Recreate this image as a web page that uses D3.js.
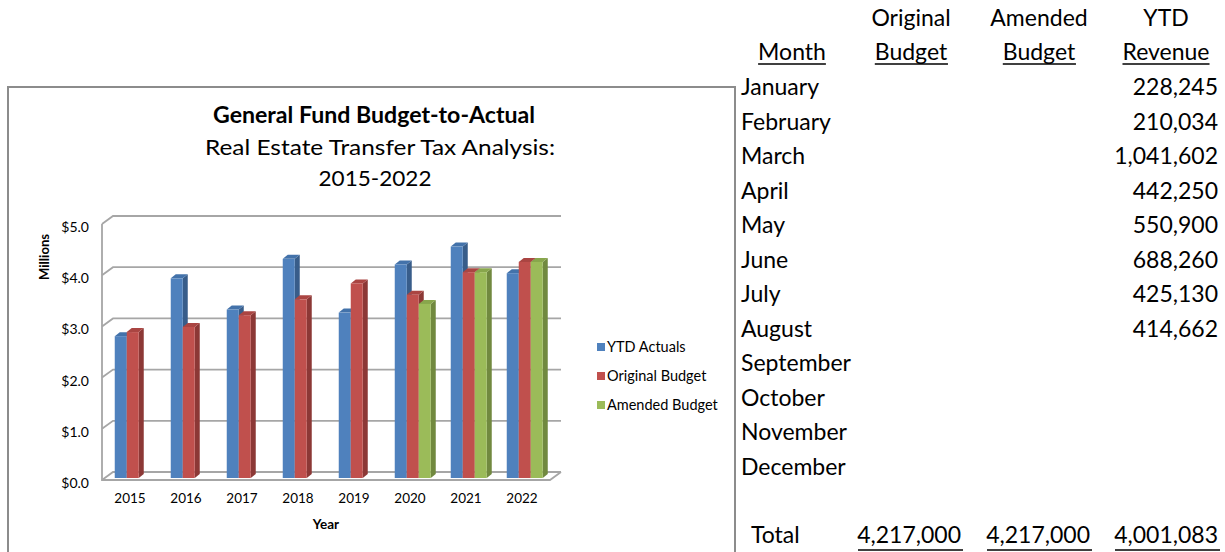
<!DOCTYPE html>
<html lang="en">
<head>
    <meta charset="UTF-8">
    <title>General Fund Budget-to-Actual</title>
    <script src="https://d3js.org/d3.v7.min.js"></script>
    <style>
        body { margin: 0; background: #fff; }
        svg { display: block; font-family: Lato, "Open Sans", sans-serif; }
    </style>
</head>
<body>
    <svg width="1225" height="552"></svg>
    <script>
        // chart values (millions)
        const years = ["2015", "2016", "2017", "2018", "2019", "2020", "2021", "2022"];
        const ytdActuals = [2.77, 3.90, 3.29, 4.28, 3.23, 4.17, 4.52, 4.00];
        const originalBudget = [2.85, 2.95, 3.18, 3.49, 3.80, 3.58, 4.02, 4.22];
        const amendedBudget = [null, null, null, null, null, 3.40, 4.02, 4.22];
        const seriesNames = ["YTD Actuals", "Original Budget", "Amended Budget"];
        const yTicks = [0, 1, 2, 3, 4, 5];

        // table values
        const months = ["January", "February", "March", "April", "May", "June", "July",
            "August", "September", "October", "November", "December"];
        const ytdRevenue = [228245, 210034, 1041602, 442250, 550900, 688260, 425130, 414662,
            null, null, null, null];
        const headTop = ["", "Original", "Amended", "YTD"];
        const headBottom = ["Month", "Budget", "Budget", "Revenue"];
        const totals = [4217000, 4217000, 4001083];

        const series = [ytdActuals, originalBudget, amendedBudget];
        const colors = [
            { front: "#4f81bd", side: "#385d8a", top: "#4372aa" },
            { front: "#c0504d", side: "#8c3836", top: "#aa4542" },
            { front: "#9bbb59", side: "#71893f", top: "#88a64c" }
        ];

        const svg = d3.select("svg");

        // chart frame
        svg.append("rect")
            .attr("x", 8).attr("y", 87).attr("width", 727).attr("height", 480)
            .attr("fill", "#fff").attr("stroke", "#8c8c8c").attr("stroke-width", 2);

        // titles (widths fitted to the original Calibri layout)
        const titles = svg.append("g").attr("text-anchor", "middle").attr("fill", "#000");
        titles.append("text").attr("x", 374).attr("y", 123)
            .attr("font-size", 22).attr("font-weight", "bold")
            .attr("textLength", 322).attr("lengthAdjust", "spacingAndGlyphs")
            .text("General Fund Budget-to-Actual");
        titles.append("text").attr("x", 380).attr("y", 155)
            .attr("font-size", 22)
            .attr("textLength", 350).attr("lengthAdjust", "spacingAndGlyphs")
            .text("Real Estate Transfer Tax Analysis:");
        titles.append("text").attr("x", 375).attr("y", 186)
            .attr("font-size", 22)
            .attr("textLength", 113).attr("lengthAdjust", "spacingAndGlyphs")
            .text("2015-2022");

        // scales: front plane of the 3d box, back wall is shifted by depth
        const x = d3.scaleBand().domain(years).range([102, 550]);
        const xs = d3.scaleBand().domain(seriesNames).range([10, 46]);
        const y = d3.scaleLinear().domain([0, 5]).range([480, 224]);
        const depth = { dx: 11, dy: -8 };
        const barOff = { dx: 2.75, dy: -2 };
        const barDepth = { dx: 5, dy: -4 };

        // walls and gridlines
        const grid = svg.append("g")
            .attr("fill", "none").attr("stroke", "#a6a6a6").attr("stroke-width", 1.8);
        grid.selectAll("path.grid")
            .data(yTicks)
            .enter()
            .append("path")
            .attr("class", "grid")
            .attr("d", d => `M${x.range()[0]},${y(d)} L${x.range()[0] + depth.dx},${y(d) + depth.dy} L${x.range()[1] + depth.dx},${y(d) + depth.dy}`);
        grid.append("path")
            .attr("d", `M${x.range()[0]},${y(5)} L${x.range()[0]},${y(0)} L${x.range()[1]},${y(0)} L${x.range()[1] + depth.dx},${y(0) + depth.dy}`);

        // bars
        const bars = [];
        years.forEach((yr, i) => {
            series.forEach((s, k) => {
                if (s[i] == null) return;
                bars.push({ year: yr, k: k, value: s[i] });
            });
        });

        const barG = svg.append("g").selectAll("g")
            .data(bars)
            .enter()
            .append("g");

        const w = xs.bandwidth();
        const bx = d => x(d.year) + xs(seriesNames[d.k]) + barOff.dx;
        const by0 = y(0) + barOff.dy;
        const byT = d => y(d.value) + barOff.dy;

        barG.append("path")
            .attr("fill", d => colors[d.k].side)
            .attr("d", d => {
                const x1 = bx(d) + w;
                return `M${x1},${byT(d)} L${x1 + barDepth.dx},${byT(d) + barDepth.dy} L${x1 + barDepth.dx},${by0 + barDepth.dy} L${x1},${by0} Z`;
            });
        barG.append("path")
            .attr("fill", d => colors[d.k].top)
            .attr("d", d => {
                const x0 = bx(d);
                const t = byT(d);
                return `M${x0},${t} L${x0 + barDepth.dx},${t + barDepth.dy} L${x0 + w + barDepth.dx},${t + barDepth.dy} L${x0 + w},${t} Z`;
            });
        barG.append("rect")
            .attr("x", bx)
            .attr("y", byT)
            .attr("width", w)
            .attr("height", d => by0 - byT(d))
            .attr("fill", d => colors[d.k].front);

        // axes
        const yAxis = svg.append("g")
            .attr("transform", `translate(${x.range()[0]},3)`)
            .call(d3.axisLeft(y).tickValues(yTicks).tickSize(0).tickPadding(13)
                .tickFormat(d => "$" + d3.format(".1f")(d)));
        yAxis.select(".domain").remove();
        yAxis.selectAll("text").attr("font-family", "Lato").attr("font-size", 14).attr("fill", "#000");

        const xAxis = svg.append("g")
            .attr("transform", `translate(0,${y(0)})`)
            .call(d3.axisBottom(x).tickSize(0).tickPadding(13));
        xAxis.select(".domain").remove();
        xAxis.selectAll("text").attr("font-family", "Lato").attr("font-size", 13.5).attr("fill", "#000");

        svg.append("text")
            .attr("transform", "translate(49,257) rotate(-90)")
            .attr("text-anchor", "middle")
            .attr("font-size", 13).attr("font-weight", "bold")
            .attr("textLength", 46).attr("lengthAdjust", "spacingAndGlyphs")
            .text("Millions");
        svg.append("text")
            .attr("x", 326).attr("y", 529)
            .attr("text-anchor", "middle")
            .attr("font-size", 13.5).attr("font-weight", "bold")
            .text("Year");

        // legend
        const legend = svg.append("g").selectAll("g")
            .data(seriesNames)
            .enter()
            .append("g")
            .attr("transform", (d, i) => `translate(597,${347 + i * 29})`);
        legend.append("rect")
            .attr("x", 0).attr("y", -4).attr("width", 8).attr("height", 8)
            .attr("fill", (d, i) => colors[i].front);
        legend.append("text")
            .attr("x", 10).attr("y", 5)
            .attr("font-size", 14.5)
            .text(d => d);

        // table on the right
        const fmt = d3.format(",");
        const colCenter = [792, 911, 1039, 1166];
        const colRight = [961, 1090, 1218];
        const table = svg.append("g").attr("font-size", 23).attr("fill", "#000");

        table.selectAll("text.h1")
            .data(headTop)
            .enter()
            .append("text")
            .attr("class", "h1")
            .attr("x", (d, i) => colCenter[i]).attr("y", 26)
            .attr("text-anchor", "middle")
            .text(d => d);

        const h2 = table.selectAll("text.h2")
            .data(headBottom)
            .enter()
            .append("text")
            .attr("class", "h2")
            .attr("x", (d, i) => colCenter[i]).attr("y", 60)
            .attr("text-anchor", "middle")
            .text(d => d);
        h2.each(function() {
            const b = this.getBBox();
            table.append("line")
                .attr("x1", b.x).attr("x2", b.x + b.width)
                .attr("y1", 64).attr("y2", 64)
                .attr("stroke", "#000").attr("stroke-width", 1.5);
        });

        const rowY = i => 95 + i * 34.5;
        table.selectAll("text.month")
            .data(months)
            .enter()
            .append("text")
            .attr("class", "month")
            .attr("x", 741).attr("y", (d, i) => rowY(i))
            .text(d => d);
        table.selectAll("text.rev")
            .data(ytdRevenue)
            .enter()
            .append("text")
            .attr("class", "rev")
            .attr("x", colRight[2]).attr("y", (d, i) => rowY(i))
            .attr("text-anchor", "end")
            .text(d => d == null ? "" : fmt(d));

        table.append("text")
            .attr("x", 751).attr("y", 543)
            .text("Total");
        table.selectAll("text.tot")
            .data(totals)
            .enter()
            .append("text")
            .attr("class", "tot")
            .attr("x", (d, i) => colRight[i]).attr("y", 543)
            .attr("text-anchor", "end")
            .text(d => fmt(d));
        // cell-wide underline under each total
        table.selectAll("line.tot")
            .data(colRight)
            .enter()
            .append("line")
            .attr("class", "tot")
            .attr("x1", d => d - 103).attr("x2", d => d + 2)
            .attr("y1", 550).attr("y2", 550)
            .attr("stroke", "#000").attr("stroke-width", 1.5);
    </script>
</body>
</html>
